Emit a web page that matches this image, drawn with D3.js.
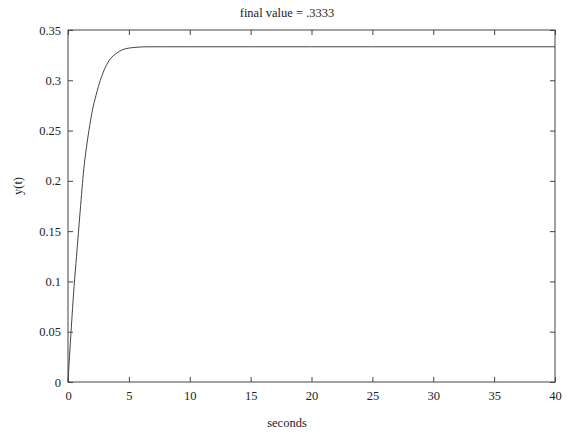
<!DOCTYPE html>
<html>
<head>
<meta charset="utf-8">
<script src="https://cdn.jsdelivr.net/npm/d3@7"></script>
<style>
  body { margin: 0; background: #fff; }
</style>
</head>
<body>
<svg id="chart" width="567" height="433"></svg>
<script>
// values (seconds, y(t))
var times  = [0, 0.25, 0.5, 0.7, 1.0, 1.3, 1.5, 1.8, 2.0, 2.3, 2.5, 2.8, 3.2, 3.6, 4.0, 4.5, 5.0, 5.5, 6.5, 8, 10, 15, 20, 25, 30, 35, 40];
var values = [0, 0.05, 0.095, 0.125, 0.17, 0.212, 0.232, 0.256, 0.270, 0.285, 0.294, 0.305, 0.316, 0.323, 0.327, 0.3305, 0.332, 0.3327, 0.3333, 0.3333, 0.3333, 0.3333, 0.3333, 0.3333, 0.3333, 0.3333, 0.3333];
var xTicks = [0, 5, 10, 15, 20, 25, 30, 35, 40];
var yTicks = [0, 0.05, 0.1, 0.15, 0.2, 0.25, 0.3, 0.35];
var title = 'final value = .3333';

var FONT = '"Liberation Serif", "DejaVu Serif", serif';
var svg = d3.select('#chart');
var m = {left: 68, right: 12, top: 30, bottom: 51};
var W = 567, H = 433;
var x = d3.scaleLinear().domain([0, 40]).range([m.left, W - m.right]);
var y = d3.scaleLinear().domain([0, 0.35]).range([H - m.bottom, m.top]);
var ink = '#444';

// box
svg.append('rect')
    .attr('x', x(0)).attr('y', y(0.35))
    .attr('width', x(40) - x(0)).attr('height', y(0) - y(0.35))
    .attr('fill', 'none').attr('stroke', ink).attr('stroke-width', 1);

// inward ticks on all four sides, matlab style
var tl = 5;
function ticks(g, axis) {
    g.call(axis);
    g.select('.domain').remove();
    g.selectAll('line').attr('stroke', ink);
    g.selectAll('text').attr('fill', '#222')
        .style('font-family', FONT).style('font-size', '12.5px');
}
svg.append('g').attr('transform', 'translate(0,' + y(0) + ')')
    .call(ticks, d3.axisBottom(x).tickValues(xTicks).tickSize(-tl).tickPadding(tl + 4).tickFormat(d3.format('d')));
svg.append('g').attr('transform', 'translate(0,' + y(0.35) + ')')
    .call(ticks, d3.axisTop(x).tickValues(xTicks).tickSize(-tl).tickFormat(''));
svg.append('g').attr('transform', 'translate(' + x(0) + ',0)')
    .call(ticks, d3.axisLeft(y).tickValues(yTicks).tickSize(-tl).tickPadding(tl + 2)
        .tickFormat(function (d) { return d === 0 ? '0' : String(+d.toFixed(2)); }));
svg.append('g').attr('transform', 'translate(' + x(40) + ',0)')
    .call(ticks, d3.axisRight(y).tickValues(yTicks).tickSize(-tl).tickFormat(''));

// curve
var pts = times.map(function (t, i) { return [t, values[i]]; });
var line = d3.line()
    .x(function (d) { return x(d[0]); })
    .y(function (d) { return y(d[1]); })
    .curve(d3.curveMonotoneX);
svg.append('path').datum(pts)
    .attr('d', line)
    .attr('fill', 'none').attr('stroke', '#444').attr('stroke-width', 1);

// labels
function label(sel) {
    sel.attr('text-anchor', 'middle').attr('fill', '#222')
        .style('font-family', FONT).style('font-size', '12.5px');
}
svg.append('text').attr('x', 287).attr('y', 17).call(label).text(title);
svg.append('text').attr('x', 287).attr('y', 427).call(label).text('seconds');
svg.append('text').attr('transform', 'translate(22,186) rotate(-90)').call(label).text('y(t)');
</script>
</body>
</html>
